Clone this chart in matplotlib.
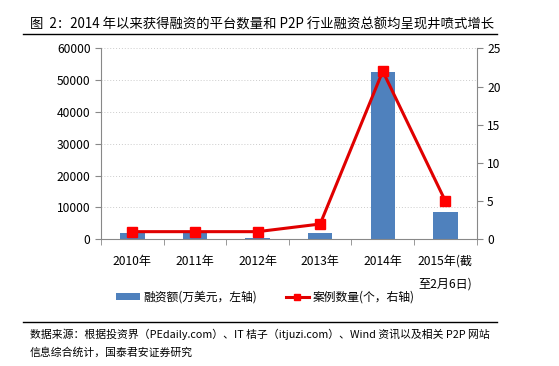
import matplotlib
matplotlib.use('Agg')
import matplotlib.pyplot as plt
import numpy as np

plt.rcParams['font.family'] = ['Noto Sans CJK SC', 'DejaVu Sans']

years = ['2010年', '2011年', '2012年', '2013年', '2014年', '2015年(截\n至2月6日)']
amount = [2000, 2500, 500, 2000, 52400, 8500]
cases = [1, 1, 1, 2, 22, 5]

title = '图  2：2014 年以来获得融资的平台数量和 P2P 行业融资总额均呈现井喷式增长'
source = ('数据来源：根据投资界（PEdaily.com）、IT 桔子（itjuzi.com）、Wind 资讯以及相关 P2P 网站\n'
          '信息综合统计，国泰君安证券研究')

W, H = 559, 366
fig = plt.figure(figsize=(W / 100, H / 100), dpi=100)
ax = fig.add_axes([101 / W, 1 - 239.3 / H, (476.7 - 101) / W, (239.3 - 48.3) / H])
ax2 = ax.twinx()

x = np.arange(len(years))
grey = '#888888'
ax.bar(x, amount, width=0.39, color='#4F81BD', label='融资额(万美元，左轴)', zorder=2)
ax2.plot(x, cases, color='#E00000', lw=2.2, marker='s', markersize=7.5,
         markerfacecolor='#FF0000', markeredgecolor='#FF0000', label='案例数量(个，右轴)', zorder=3)

ax.set_xlim(-0.5, len(years) - 0.5)
ax.set_ylim(0, 60000)
ax.set_yticks(range(0, 60001, 10000))
ax2.set_ylim(0, 25)
ax2.set_yticks(range(0, 26, 5))
ax.set_xticks(x)
ax.set_xticklabels(years, fontsize=8.7, linespacing=2.0)
ax.set_xticks(np.arange(-0.5, len(years), 1), minor=True)
ax.tick_params(axis='x', which='major', length=0, pad=11)
ax.tick_params(axis='x', which='minor', length=4, color=grey)
ax.tick_params(axis='y', labelsize=8.7, length=4, color=grey)
ax2.tick_params(axis='y', labelsize=8.7, length=4, color=grey)
ax.yaxis.grid(True, linestyle=(0, (1, 2)), color='#CCCCCC', lw=0.7)
ax.set_axisbelow(True)

for a in (ax, ax2):
    a.spines['top'].set_visible(False)
    for s in ('left', 'right', 'bottom'):
        a.spines[s].set_color(grey)
ax.spines['right'].set_visible(False)
ax2.spines['left'].set_visible(False)
ax2.spines['bottom'].set_visible(False)

h1, l1 = ax.get_legend_handles_labels()
h2, l2 = ax2.get_legend_handles_labels()
leg = fig.legend(h1 + h2, l1 + l2, loc='center', bbox_to_anchor=(0.475, 1 - 297 / H),
                 ncol=2, frameon=False, fontsize=8.5, handlelength=2.0, handleheight=0.5,
                 columnspacing=2.4, handletextpad=0.3, borderaxespad=0)
leg.legend_handles[1].set_markersize(5)

fig.text(30 / W, 1 - 25 / H, title, fontsize=9.6, va='center', ha='left')
fig.add_artist(plt.Line2D([23 / W, 497 / W], [1 - 34 / H, 1 - 34 / H], color='black', lw=1))
fig.add_artist(plt.Line2D([23 / W, 497 / W], [1 - 322 / H, 1 - 322 / H], color='black', lw=1))
fig.text(30 / W, 1 - 343 / H, source, fontsize=7.8, va='center', ha='left', linespacing=1.8)

fig.savefig('out.png', dpi=100, facecolor='white')
